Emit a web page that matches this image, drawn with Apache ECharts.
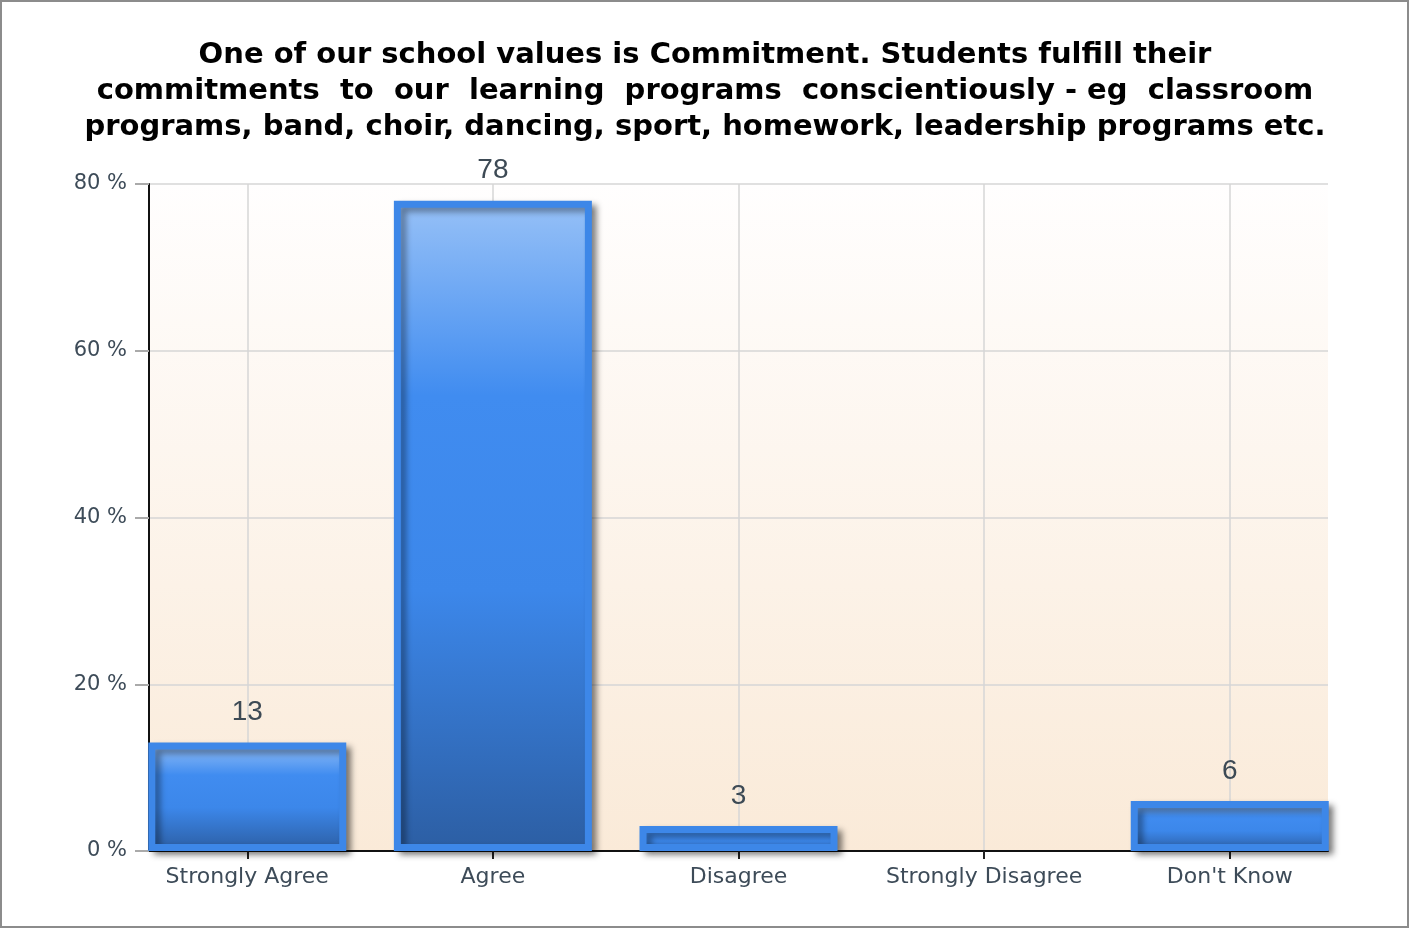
<!DOCTYPE html>
<html>
<head>
<meta charset="utf-8">
<script src="https://cdn.jsdelivr.net/npm/echarts@6/dist/echarts.min.js"></script>
<style>
  html, body { margin: 0; padding: 0; background: #fff; }
  #main { width: 1410px; height: 929px; }
</style>
</head>
<body>
<div id="main"></div>
<script>
// survey data
const categories = ['Strongly Agree', 'Agree', 'Disagree', 'Strongly Disagree', "Don't Know"];
const percents = [13, 78, 3, 0, 6];
const yTicks = [0, 20, 40, 60, 80];

const titleLines = [
  'One of our school values is Commitment. Students fulfill their',
  'commitments  to  our  learning  programs  conscientiously - eg  classroom',
  'programs, band, choir, dancing, sport, homework, leadership programs etc.'
];

const chart = echarts.init(document.getElementById('main'));
const idx = categories.map((c, i) => i);

chart.setOption({
  animation: false,
  title: {
    text: titleLines.join('\n'),
    left: 'center',
    top: 32,
    textStyle: {
      fontFamily: 'DejaVu Sans',
      fontWeight: 'bold',
      fontSize: 29,
      lineHeight: 36,
      color: '#000'
    }
  },
  graphic: [{
    type: 'rect',
    shape: { x: 1, y: 1, width: 1407, height: 926 },
    style: { fill: null, stroke: '#8c8c8c', lineWidth: 2 },
    silent: true
  }],
  grid: {
    left: 149, right: 82, top: 184, bottom: 78,
    show: true,
    borderWidth: 0,
    backgroundColor: new echarts.graphic.LinearGradient(0, 0, 0, 1, [
      { offset: 0, color: '#fffefe' },
      { offset: 1, color: '#faead8' }
    ])
  },
  xAxis: {
    type: 'value',
    min: -0.4,
    max: 4.4,
    axisLine: { show: true, onZero: false, lineStyle: { color: '#111', width: 2 } },
    axisTick: { show: true, customValues: idx, length: 8, lineStyle: { color: '#222', width: 2 } },
    axisLabel: {
      customValues: idx,
      formatter: v => categories[Math.round(v)] || '',
      margin: 15,
      fontFamily: 'DejaVu Sans',
      fontSize: 22,
      color: '#3d4b58'
    },
    splitLine: { show: true, lineStyle: { color: '#d6d6d6', width: 1.5 } }
  },
  yAxis: {
    type: 'value',
    min: yTicks[0],
    max: yTicks[yTicks.length - 1],
    interval: 20,
    axisLine: { show: true, onZero: false, lineStyle: { color: '#111', width: 2 } },
    axisTick: { show: true, length: 14, lineStyle: { color: '#aaa', width: 2 } },
    axisLabel: {
      formatter: '{value} %',
      margin: 22,
      fontFamily: 'DejaVu Sans',
      fontSize: 21,
      color: '#3d4b58'
    },
    splitLine: { show: true, lineStyle: { color: '#d6d6d6', width: 1.5 } }
  },
  series: [{
    type: 'bar',
    barWidth: 198,
    data: percents.map((v, i) => ({
      value: [i, v],
      itemStyle: v > 0 ? {} : { borderWidth: 0, shadowBlur: 0, shadowOffsetX: 0, shadowOffsetY: 0 }
    })),
    itemStyle: {
      color: new echarts.graphic.LinearGradient(0, 0, 0, 1, [
        { offset: 0, color: '#97c1f7' },
        { offset: 0.3, color: '#408cf0' },
        { offset: 0.6, color: '#3c87ea' },
        { offset: 1, color: '#2c5ea3' }
      ]),
      borderColor: '#3d87e8',
      borderWidth: 7,
      shadowColor: 'rgba(0,0,0,0.4)',
      shadowBlur: 6,
      shadowOffsetX: 5,
      shadowOffsetY: 4
    },
    label: {
      show: true,
      position: 'top',
      distance: 16,
      formatter: p => (p.value[1] > 0 ? p.value[1] : ''),
      fontFamily: 'Liberation Sans',
      fontSize: 28,
      color: '#3d4a55'
    }
  }]
});
</script>
</body>
</html>
